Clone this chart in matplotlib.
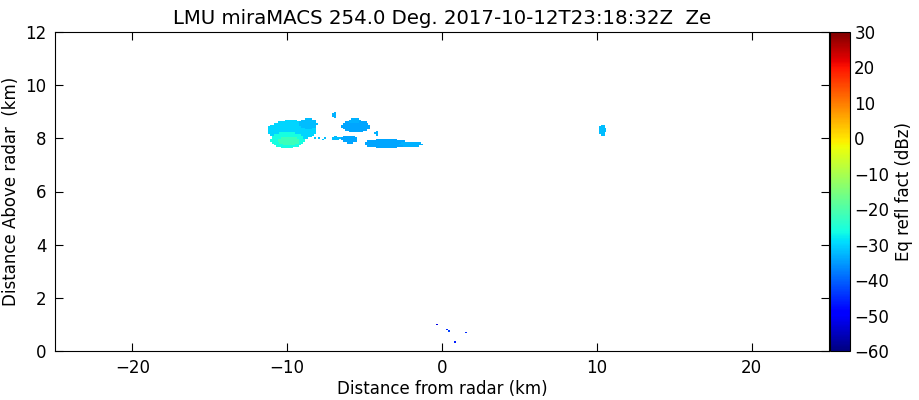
import numpy as np
import matplotlib
matplotlib.use('Agg')
import matplotlib.pyplot as plt

# echo patches: centre x, centre y (km), half width, half height (km), Ze (dBZ)
blob_xc = [-9.7, -8.65, -10.0, -9.9, -6.97, -5.55, -5.65, -6.85, -5.97, -3.6, -2.0, -4.2, 10.35]
blob_yc = [8.3, 8.55, 7.93, 7.9, 8.87, 8.45, 8.66, 8.0, 7.97, 7.8, 7.78, 8.2, 8.3]
blob_ax = [1.6, 0.6, 1.1, 0.7, 0.12, 0.95, 0.35, 0.32, 0.5, 1.45, 0.75, 0.13, 0.23]
blob_ay = [0.38, 0.2, 0.3, 0.16, 0.12, 0.22, 0.1, 0.08, 0.15, 0.17, 0.1, 0.08, 0.23]
blob_ze = [-30, -32, -26, -22, -33, -34, -33, -32, -34, -34, -33, -33, -32]

# isolated gates
dot_x = [-8.2, -7.94, -7.74, -7.55, -0.26, 0.32, 0.45, 1.6, 0.84]
dot_y = [8.0, 8.0, 7.97, 8.0, 0.98, 0.79, 0.75, 0.68, 0.34]
dot_ze = [-31, -32, -31, -32, -52, -45, -43, -45, -46]

x_edges = np.arange(-25, 25.001, 0.125)
y_edges = np.arange(0, 12.001, 0.06)
xc = 0.5*(x_edges[1:]+x_edges[:-1])
yc = 0.5*(y_edges[1:]+y_edges[:-1])
X, Y = np.meshgrid(xc, yc)

ze = np.full(X.shape, np.nan)
for i in range(len(blob_xc)):
    inside = ((X-blob_xc[i])/blob_ax[i])**2 + ((Y-blob_yc[i])/blob_ay[i])**2 <= 1
    ze[inside] = blob_ze[i]
for i in range(len(dot_x)):
    ix = np.argmin(abs(xc-dot_x[i]))
    iy = np.argmin(abs(yc-dot_y[i]))
    ze[iy, ix] = dot_ze[i]
ze = np.ma.masked_invalid(ze)

fig = plt.figure(figsize=(9.19, 4.0), dpi=100)
ax = fig.add_axes([0.0598, 0.1225, 0.8423, 0.7975])
cax = fig.add_axes([0.9032, 0.1225, 0.0218, 0.7975])

pm = ax.pcolormesh(x_edges, y_edges, ze, cmap='jet', vmin=-60, vmax=30)
ax.set_xlim(-25, 25)
ax.set_ylim(0, 12)
ax.set_xticks([-20, -10, 0, 10, 20])
ax.set_yticks([0, 2, 4, 6, 8, 10, 12])
ax.tick_params(direction='in', top=True, right=True, length=6, labelsize=12, pad=6)
ax.set_xlabel('Distance from radar (km)', fontsize=12, labelpad=2)
ax.set_ylabel('Distance Above radar  (km)', fontsize=12)
ax.set_title('LMU miraMACS 254.0 Deg. 2017-10-12T23:18:32Z  Ze', fontsize=14.2)

cb = fig.colorbar(pm, cax=cax)
cb.set_ticks(np.arange(-60, 31, 10))
cb.ax.tick_params(direction='in', length=0, labelsize=12, pad=3)
cb.set_label('Eq refl fact (dBz)', fontsize=12)

fig.savefig('out.png', dpi=100)
